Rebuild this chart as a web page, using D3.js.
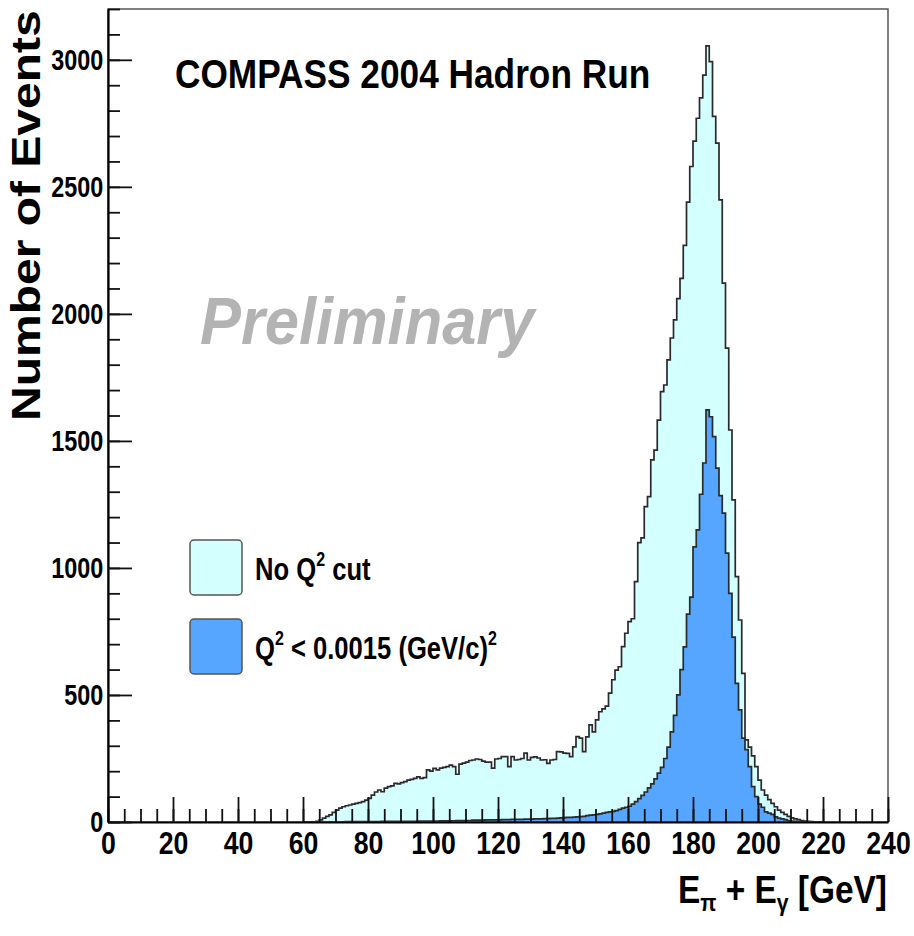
<!DOCTYPE html>
<html>
<head>
<meta charset="utf-8">
<script src="https://cdn.jsdelivr.net/npm/d3@7"></script>
<style>
  body { margin: 0; background: #fff; }
  svg text { font-family: "Liberation Sans", Arial, Helvetica, sans-serif; font-weight: bold; }
</style>
</head>
<body>
<svg width="914" height="936"></svg>
<script>
const svgWidth = 914;
const svgHeight = 936;

// histogram binning (GeV): first stored bin lower edge and width
const binStart = 60;
const binWidth = 1;

// E_pi + E_gamma, no Q^2 cut, bins 60..219 GeV
const noCutCounts = [
  0, 0, 0, 1, 3, 8, 15, 22, 28, 38,
  47, 55, 60, 64, 67, 70, 73, 76, 80, 86,
  93, 106, 118, 126, 119, 133, 139, 142, 152, 150,
  155, 159, 165, 168, 172, 178, 172, 175, 205, 200,
  211, 205, 212, 215, 218, 224, 218, 188, 228, 232,
  236, 242, 244, 248, 246, 240, 236, 236, 212, 248,
  250, 257, 257, 218, 257, 244, 246, 250, 271, 244,
  254, 256, 252, 244, 245, 231, 244, 246, 277, 276,
  271, 270, 257, 296, 336, 330, 277, 335, 382, 355,
  402, 434, 445, 456, 507, 560, 598, 611, 690, 743,
  789, 800, 946, 1100, 1118, 1241, 1281, 1425, 1464, 1582,
  1694, 1720, 1819, 1905, 1976, 2060, 2140, 2270, 2440, 2580,
  2680, 2770, 2850, 2940, 3055, 2993, 2777, 2672, 2449, 2121,
  1865, 1543, 1268, 966, 795, 585, 323, 295, 260, 218,
  165, 126, 106, 88, 73, 60, 47, 38, 30, 22,
  16, 12, 9, 6, 4, 3, 2, 1, 0, 0
];

// Q^2 < 0.0015 (GeV/c)^2, same bins
const lowQ2Counts = [
  0, 0, 0, 0, 0, 0, 0, 0, 1, 1,
  1, 1, 1, 2, 2, 2, 2, 2, 2, 2,
  2, 2, 2, 2, 3, 3, 3, 3, 3, 3,
  3, 3, 3, 3, 3, 4, 4, 4, 4, 4,
  4, 4, 5, 5, 5, 5, 5, 6, 6, 6,
  6, 6, 7, 7, 7, 7, 8, 8, 8, 8,
  8, 9, 9, 9, 10, 10, 10, 10, 11, 11,
  11, 12, 12, 12, 13, 13, 14, 14, 15, 16,
  17, 18, 18, 19, 20, 21, 22, 25, 27, 28,
  30, 32, 35, 38, 40, 42, 45, 50, 55, 58,
  62, 70, 80, 92, 105, 118, 134, 150, 170, 192,
  215, 250, 295, 355, 420, 500, 600, 689, 818, 885,
  1083, 1150, 1290, 1413, 1622, 1595, 1517, 1393, 1285, 1216,
  1058, 900, 728, 546, 441, 330, 285, 218, 139, 100,
  70, 58, 40, 35, 30, 20, 15, 12, 9, 6,
  4, 3, 2, 1, 0, 0, 0, 0, 0, 0
];

const xMajorTicks = [0, 20, 40, 60, 80, 100, 120, 140, 160, 180, 200, 220, 240];
const yMajorTicks = [0, 500, 1000, 1500, 2000, 2500, 3000];
const xDomain = [0, 240];
const yDomain = [0, 3200];

const colors = { noCut: "#d4ffff", lowQ2: "#56a6ff", outline: "#2a2a2a" };

const svg = d3.select("svg");

const margin = { left: 108, right: 26, top: 9, bottom: 114 };
const chartWidth = svgWidth - margin.left - margin.right;
const chartHeight = svgHeight - margin.top - margin.bottom;

const chartGroup = svg
  .append("g")
  .attr("transform", `translate(${margin.left}, ${margin.top})`);

const xScaler = d3.scaleLinear().domain(xDomain).range([0, chartWidth]);
const yScaler = d3.scaleLinear().domain(yDomain).range([chartHeight, 0]);

// clip so the histograms stay inside the frame
svg
  .append("defs")
  .append("clipPath")
  .attr("id", "plotClip")
  .append("rect")
  .attr("width", chartWidth)
  .attr("height", chartHeight);

const bins = noCutCounts.map((count, i) => ({
  lo: binStart + i * binWidth,
  noCut: count,
  lowQ2: lowQ2Counts[i],
}));

const stepPoints = (key) => {
  const pts = bins.map((b) => [b.lo, b[key]]);
  pts.push([bins[bins.length - 1].lo + binWidth, 0]);
  return pts;
};

const histArea = d3
  .area()
  .curve(d3.curveStepAfter)
  .x((d) => xScaler(d[0]))
  .y0(yScaler(0))
  .y1((d) => yScaler(d[1]));

const histLine = d3
  .line()
  .curve(d3.curveStepAfter)
  .x((d) => xScaler(d[0]))
  .y((d) => yScaler(d[1]));

const histGroup = chartGroup.append("g").attr("clip-path", "url(#plotClip)");

[
  { key: "noCut", fill: colors.noCut },
  { key: "lowQ2", fill: colors.lowQ2 },
].forEach((s) => {
  const pts = stepPoints(s.key);
  histGroup.append("path").attr("d", histArea(pts)).attr("fill", s.fill);
  histGroup
    .append("path")
    .attr("d", histLine(pts))
    .attr("fill", "none")
    .attr("stroke", colors.outline)
    .attr("stroke-width", 1.7);
});

// frame (top / right are lighter)
chartGroup
  .append("rect")
  .attr("width", chartWidth)
  .attr("height", chartHeight)
  .attr("fill", "none")
  .attr("stroke", "#555")
  .attr("stroke-width", 1.5);

// x axis: minor ticks every 5, major every 20, ticks pointing up
const xMinor = chartGroup
  .append("g")
  .attr("transform", `translate(0, ${chartHeight})`)
  .call(d3.axisBottom(xScaler).ticks(48).tickSize(-13).tickFormat(""));
xMinor.select(".domain").remove();

const xAxisGroup = chartGroup
  .append("g")
  .attr("transform", `translate(0, ${chartHeight})`)
  .call(
    d3.axisBottom(xScaler).tickValues(xMajorTicks).tickSize(-25).tickSizeOuter(0).tickPadding(10)
  );
xAxisGroup.select(".domain").attr("stroke-width", 2.2);

const yMinor = chartGroup
  .append("g")
  .call(d3.axisLeft(yScaler).tickValues(d3.range(0, 3201, 100)).tickSize(-12).tickFormat(""));
yMinor.select(".domain").remove();

const yAxisGroup = chartGroup
  .append("g")
  .call(
    d3
      .axisLeft(yScaler)
      .tickValues(yMajorTicks)
      .tickFormat(d3.format("d"))
      .tickSize(-24)
      .tickSizeOuter(0)
      .tickPadding(6)
  );
yAxisGroup.select(".domain").attr("stroke-width", 2.2);

svg.selectAll(".tick line").attr("stroke", "#111").attr("stroke-width", 1.8);

const styleTickText = (g, size, sx) =>
  g
    .selectAll("text")
    .attr("font-size", size)
    .attr("font-family", '"Liberation Sans", Arial, sans-serif')
    .attr("font-weight", "bold")
    .attr("fill", "#000")
    .attr("transform", `scale(${sx},1)`);

styleTickText(xAxisGroup, 31, 0.86);
styleTickText(yAxisGroup, 30, 0.78);

// titles
svg
  .append("text")
  .attr("transform", `translate(40, 421) rotate(-90) scale(1, 0.85)`)
  .attr("font-size", 48)
  .text("Number of Events");

const xTitle = svg
  .append("text")
  .attr("transform", `translate(887, 903) scale(0.88, 1)`)
  .attr("text-anchor", "end")
  .attr("font-size", 38);
xTitle.append("tspan").text("E");
xTitle.append("tspan").attr("font-size", 24).attr("dy", 8).text("π");
xTitle.append("tspan").attr("dy", -8).text(" + E");
xTitle.append("tspan").attr("font-size", 24).attr("dy", 8).text("γ");
xTitle.append("tspan").attr("dy", -8).text(" [GeV]");

svg
  .append("text")
  .attr("transform", `translate(175, 88) scale(0.86, 1)`)
  .attr("font-size", 41)
  .text("COMPASS 2004 Hadron Run");

svg
  .append("text")
  .attr("transform", `translate(200, 344) scale(0.93, 1)`)
  .attr("font-size", 66)
  .attr("font-style", "italic")
  .attr("fill", "#b3b3b3")
  .text("Preliminary");

// legend
const legendItems = [
  { key: "noCut", parts: ["No Q", "2", " cut"] },
  { key: "lowQ2", parts: ["Q", "2", " < 0.0015 (GeV/c)", "2"] },
];

const legend = svg.append("g");
legendItems.forEach((item, i) => {
  const row = legend.append("g").attr("transform", `translate(190, ${540 + i * 79})`);
  row
    .append("rect")
    .attr("width", 52)
    .attr("height", 55)
    .attr("rx", 4)
    .attr("fill", colors[item.key])
    .attr("stroke", "#555")
    .attr("stroke-width", 1.5);
  const t = row
    .append("text")
    .attr("transform", `translate(65, 40) scale(0.8, 1)`)
    .attr("font-size", 32);
  item.parts.forEach((p, j) => {
    const isSup = j % 2 === 1;
    t.append("tspan")
      .attr("font-size", isSup ? 20 : 32)
      .attr("dy", isSup ? -14 : j > 0 ? 14 : 0)
      .text(p);
  });
});
</script>
</body>
</html>
